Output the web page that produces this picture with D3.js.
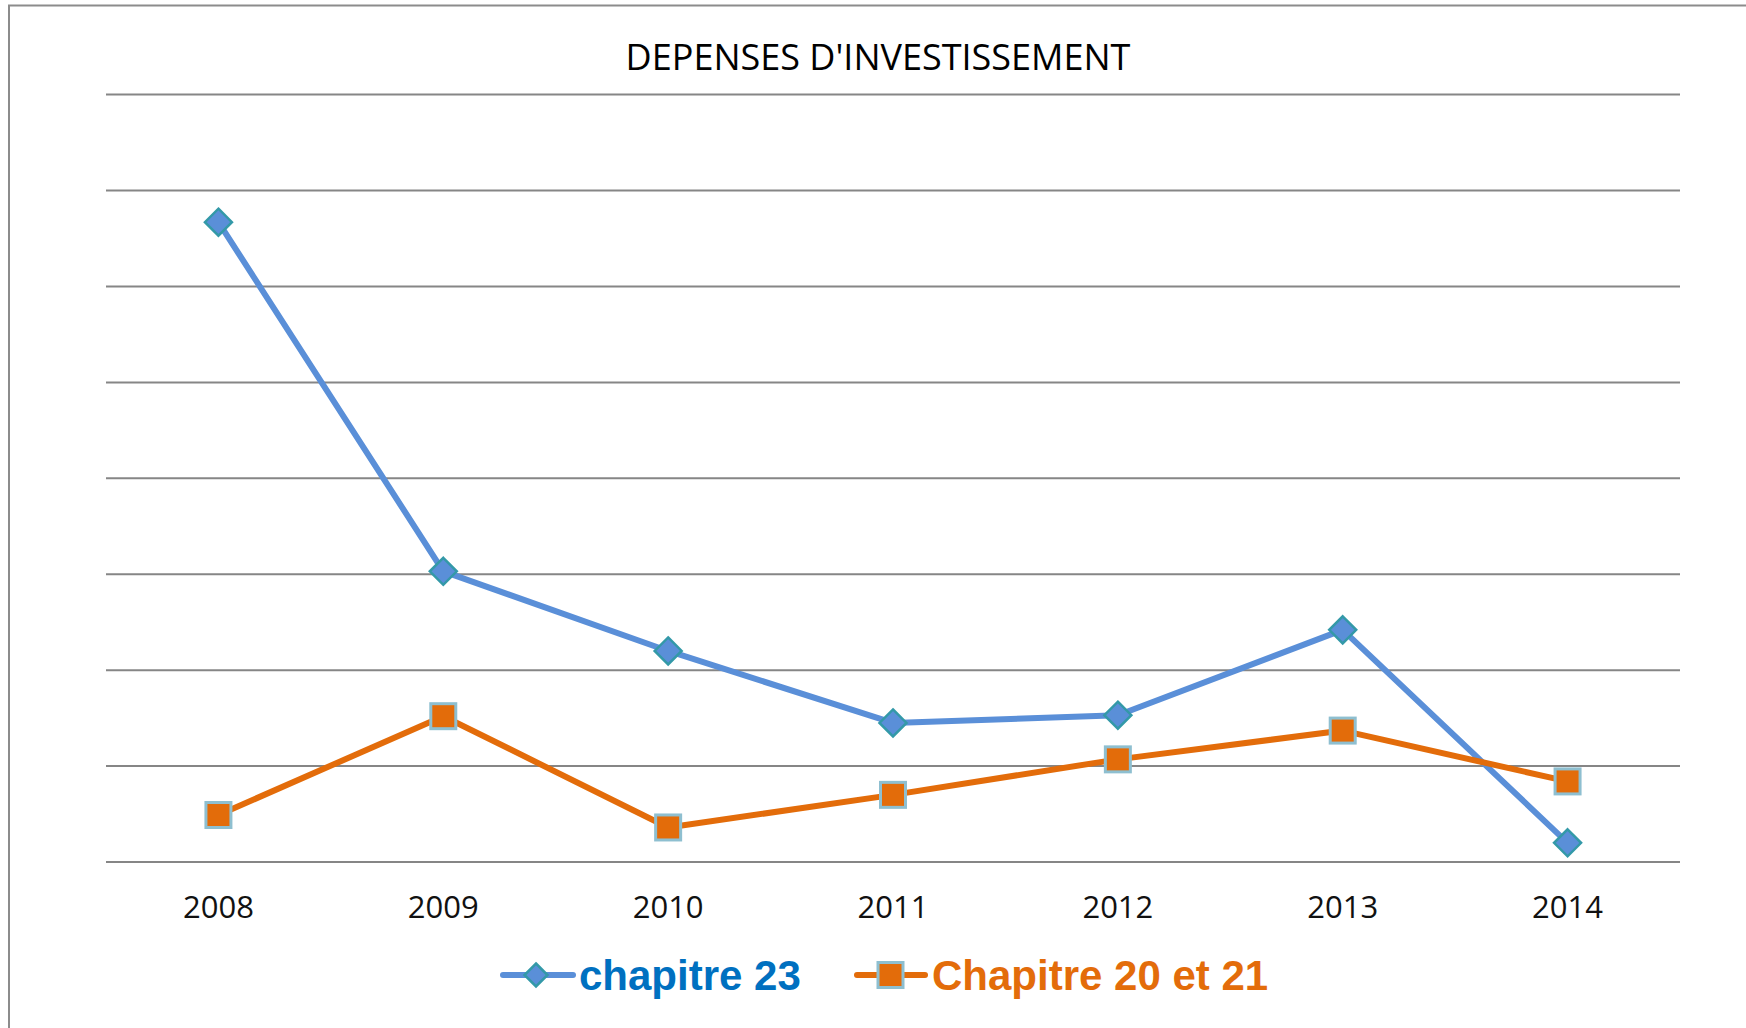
<!DOCTYPE html>
<html>
<head>
<meta charset="utf-8">
<script src="https://cdn.jsdelivr.net/npm/d3@7"></script>
<style>
  body { margin: 0; background: #fff; }
</style>
</head>
<body>
<div id="chart"></div>
<script>
// data (units = one gridline step)
var years = ['2008', '2009', '2010', '2011', '2012', '2013', '2014'];
var chapitre23 = [6.67, 3.03, 2.20, 1.45, 1.53, 2.42, 0.20];
var chapitre2021 = [0.49, 1.52, 0.36, 0.70, 1.07, 1.37, 0.84];
var gridTicks = [0, 1, 2, 3, 4, 5, 6, 7, 8];

var width = 1746, height = 1028;
var plot = { left: 106, right: 1680, top: 94.6, bottom: 862 };

var blue = '#5a8fd8', orange = '#e36c0a';

var svg = d3.select('#chart').append('svg')
              .attr('width', width)
              .attr('height', height);

// outer frame
svg.append('rect')
    .attr('x', 9).attr('y', 5.5)
    .attr('width', width + 20).attr('height', height + 20)
    .style('fill', 'none')
    .style('stroke', '#8c8c8c')
    .style('stroke-width', 2);

var x = d3.scaleBand().domain(years).range([plot.left, plot.right]).padding(0);
var y = d3.scaleLinear().domain([0, 8]).range([plot.bottom, plot.top]);

// horizontal gridlines
svg.selectAll('.grid')
    .data(gridTicks).enter()
    .append('line')
    .attr('class', 'grid')
    .attr('x1', plot.left).attr('x2', plot.right)
    .attr('y1', function(d) { return y(d); })
    .attr('y2', function(d) { return y(d); })
    .style('stroke', '#868686')
    .style('stroke-width', 2);

// x axis labels
var xAxis = d3.axisBottom(x).tickSize(0).tickPadding(0);
var gx = svg.append('g')
    .attr('transform', 'translate(0,' + plot.bottom + ')')
    .call(xAxis);
gx.select('.domain').remove();
gx.selectAll('text')
    .attr('y', 56)
    .attr('dy', 0)
    .style('font-family', 'Open Sans')
    .style('font-size', '31px')
    .style('fill', '#111');

// title
svg.append('text')
    .text("DEPENSES D'INVESTISSEMENT")
    .attr('x', 878)
    .attr('y', 70)
    .attr('text-anchor', 'middle')
    .style('font-family', 'Open Sans')
    .style('font-size', '36px')
    .style('fill', '#000');

var cx = function(d, i) { return x(years[i]) + x.bandwidth() / 2; };
var line = d3.line()
              .x(cx)
              .y(function(d) { return y(d); });

// chapitre 23
svg.append('path')
    .datum(chapitre23)
    .attr('d', line)
    .style('fill', 'none')
    .style('stroke', blue)
    .style('stroke-width', 6)
    .style('stroke-linejoin', 'round');

// chapitre 20 et 21
svg.append('path')
    .datum(chapitre2021)
    .attr('d', line)
    .style('fill', 'none')
    .style('stroke', orange)
    .style('stroke-width', 6)
    .style('stroke-linejoin', 'round');

var diamond = function(s) {
  return 'M0,' + (-s) + 'L' + s + ',0L0,' + s + 'L' + (-s) + ',0Z';
};

svg.selectAll('.diamond')
    .data(chapitre23).enter()
    .append('path')
    .attr('class', 'diamond')
    .attr('d', diamond(13.5))
    .attr('transform', function(d, i) { return 'translate(' + cx(d, i) + ',' + y(d) + ')'; })
    .style('fill', blue)
    .style('stroke', '#3399a8')
    .style('stroke-width', 2.5);

svg.selectAll('.square')
    .data(chapitre2021).enter()
    .append('rect')
    .attr('class', 'square')
    .attr('x', function(d, i) { return cx(d, i) - 12.5; })
    .attr('y', function(d) { return y(d) - 12.5; })
    .attr('width', 25)
    .attr('height', 25)
    .style('fill', orange)
    .style('stroke', '#8ebfd0')
    .style('stroke-width', 3);

// legend
var legY = 975;
var leg1 = svg.append('g');
leg1.append('line')
    .attr('x1', 503).attr('x2', 573).attr('y1', legY).attr('y2', legY)
    .style('stroke', blue).style('stroke-width', 6).style('stroke-linecap', 'round');
leg1.append('path')
    .attr('d', diamond(11.5))
    .attr('transform', 'translate(536,' + legY + ')')
    .style('fill', blue).style('stroke', '#3399a8').style('stroke-width', 2.5);
leg1.append('text')
    .text('chapitre 23')
    .attr('x', 579).attr('y', legY + 15)
    .style('font-family', 'Liberation Sans')
    .style('font-weight', 'bold')
    .style('font-size', '42px')
    .style('fill', '#0070c0');

var leg2 = svg.append('g');
leg2.append('line')
    .attr('x1', 857).attr('x2', 925).attr('y1', legY).attr('y2', legY)
    .style('stroke', orange).style('stroke-width', 6).style('stroke-linecap', 'round');
leg2.append('rect')
    .attr('x', 878).attr('y', legY - 12.5).attr('width', 25).attr('height', 25)
    .style('fill', orange).style('stroke', '#8ebfd0').style('stroke-width', 3);
leg2.append('text')
    .text('Chapitre 20 et 21')
    .attr('x', 932).attr('y', legY + 15)
    .style('font-family', 'Liberation Sans')
    .style('font-weight', 'bold')
    .style('font-size', '42px')
    .style('fill', orange);
</script>
</body>
</html>
